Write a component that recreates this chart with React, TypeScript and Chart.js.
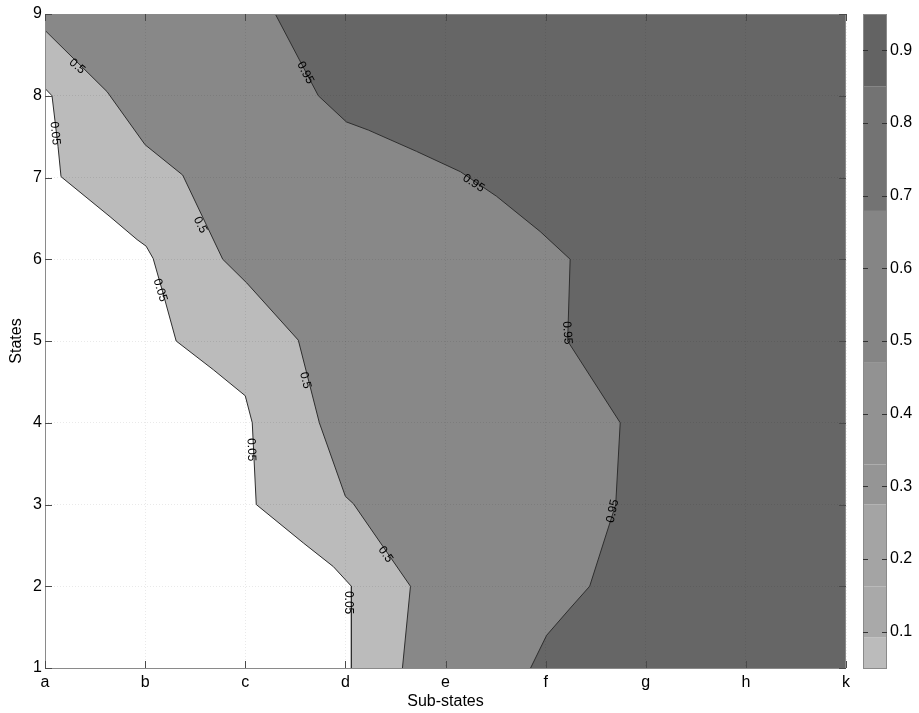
import React, { useEffect, useRef } from "react";
import { Chart, registerables } from "chart.js";

Chart.register(...registerables);

// ---------- data ----------
const subStates = ["a", "b", "c", "d", "e", "f", "g", "h", "k"];
const stateTicks = [1, 2, 3, 4, 5, 6, 7, 8, 9];
const colorbarTicks = [0.1, 0.2, 0.3, 0.4, 0.5, 0.6, 0.7, 0.8, 0.9];

// axis ranges (index of sub-state, state)
const xMin = 0;
const xMax = 8;
const yMin = 1;
const yMax = 9;

// contour 0.05 (white | light)
const c005X = [0, 0.07, 0.13, 0.16, 0.65, 0.92, 1.01, 1.08, 1.18, 1.31, 1.68, 2.0, 2.07, 2.11, 2.58, 2.88, 3.06, 3.06];
const c005Y = [8.09, 8.0, 7.38, 7.01, 6.52, 6.24, 6.16, 6.01, 5.58, 5.0, 4.65, 4.33, 4.0, 3.0, 2.53, 2.24, 2.0, 1.0];

// contour 0.5 (light | medium)
const c05X = [0, 0.62, 1.0, 1.375, 1.775, 2.015, 2.53, 2.74, 3.0, 3.08, 3.65, 3.57];
const c05Y = [8.8, 8.05, 7.4, 7.03, 6.0, 5.71, 5.01, 4.0, 3.1, 3.01, 2.0, 1.0];

// contour 0.95 (medium | dark)
const c095X = [2.3, 2.73, 3.01, 3.23, 3.71, 4.15, 4.51, 4.945, 5.245, 5.22, 5.745, 5.7, 5.44, 5.23, 5.01, 4.85];
const c095Y = [9, 8.0, 7.68, 7.58, 7.32, 7.07, 6.77, 6.34, 6.0, 5.0, 4.0, 3.0, 2.0, 1.71, 1.4, 1.0];

// contour labels
const labelText = ["0.5", "0.05", "0.95", "0.5", "0.05", "0.95", "0.5", "0.95", "0.05", "0.5", "0.05", "0.95"];
const labelX = [0.32, 0.1, 2.6, 1.55, 1.15, 4.28, 2.6, 5.215, 2.06, 3.4, 3.03, 5.67];
const labelY = [8.36, 7.54, 8.28, 6.42, 5.62, 6.93, 4.52, 5.1, 3.67, 2.39, 1.8, 2.92];
const labelAngle = [40, 84, 62, 63, 73, 33, 76, 86, 88, 55, 90, -78];

// colorbar band boundaries
const bandBounds = [0.05, 0.092, 0.162, 0.275, 0.33, 0.471, 0.679, 0.85, 0.95];

// ---------- styles ----------
const bandColors = ["#bbbbbb", "#a9a9a9", "#a4a4a4", "#959595", "#929292", "#858585", "#737373", "#636363"];
const FONT = '"Liberation Sans", Arial, Helvetica, sans-serif';
const W = 919;
const H = 713;
const LINE = "#2e2e2e";
const NONE = "rgba(0,0,0,0)";

const pts = (xs: number[], ys: number[]) => xs.map((x, i) => ({ x, y: ys[i] }));

const decor = {
  id: "decor",
  afterDraw(chart: any) {
    const { ctx, chartArea: a, scales } = chart;
    const xs = scales.x;
    const ys = scales.y;
    const cb = scales.cb;
    ctx.save();

    // box
    ctx.strokeStyle = "#8a8a8a";
    ctx.lineWidth = 1;
    ctx.strokeRect(a.left + 0.5, a.top + 0.5, a.right - a.left - 1, a.bottom - a.top);

    // inward ticks
    ctx.strokeStyle = "#4a4a4a";
    ctx.beginPath();
    xs.ticks.forEach((t: any) => {
      const px = Math.round(xs.getPixelForValue(t.value)) + 0.5;
      ctx.moveTo(px, a.top);
      ctx.lineTo(px, a.top + 7);
      ctx.moveTo(px, a.bottom);
      ctx.lineTo(px, a.bottom - 7);
    });
    ys.ticks.forEach((t: any) => {
      const py = Math.round(ys.getPixelForValue(t.value)) + 0.5;
      ctx.moveTo(a.left, py);
      ctx.lineTo(a.left + 7, py);
      ctx.moveTo(a.right, py);
      ctx.lineTo(a.right - 7, py);
    });
    ctx.stroke();

    // colorbar
    const cbL = a.right + 17;
    const cbW = 24;
    for (let i = 0; i < bandColors.length; i++) {
      const y0 = cb.getPixelForValue(bandBounds[i]);
      const y1 = cb.getPixelForValue(bandBounds[i + 1]);
      ctx.fillStyle = bandColors[i];
      ctx.fillRect(cbL, y1, cbW, y0 - y1);
    }
    const cTop = cb.getPixelForValue(bandBounds[bandBounds.length - 1]);
    const cBot = cb.getPixelForValue(bandBounds[0]);
    ctx.strokeStyle = "#8a8a8a";
    ctx.strokeRect(cbL + 0.5, cTop + 0.5, cbW - 1, cBot - cTop);
    ctx.strokeStyle = "#333333";
    ctx.beginPath();
    cb.ticks.forEach((t: any) => {
      const py = Math.round(cb.getPixelForValue(t.value)) + 0.5;
      ctx.moveTo(cbL, py);
      ctx.lineTo(cbL + 5, py);
      ctx.moveTo(cbL + cbW - 5, py);
      ctx.lineTo(cbL + cbW, py);
    });
    ctx.stroke();

    // contour labels
    ctx.fillStyle = "#000";
    ctx.font = `12px ${FONT}`;
    ctx.textAlign = "center";
    ctx.textBaseline = "middle";
    labelText.forEach((txt, i) => {
      ctx.save();
      ctx.translate(xs.getPixelForValue(labelX[i]), ys.getPixelForValue(labelY[i]));
      ctx.rotate((labelAngle[i] * Math.PI) / 180);
      ctx.fillText(txt, 0, 0);
      ctx.restore();
    });

    ctx.restore();
  },
};

export default function App() {
  const ref = useRef<HTMLCanvasElement>(null);

  useEffect(() => {
    const canvas = ref.current;
    if (!canvas) return;
    const gridColor = "rgba(0,0,0,0.085)";
    const tickFont = { family: FONT, size: 16 };

    const corner = (x: number, y: number) => ({ x, y });
    // filled regions: contour closed through the axis corners
    const r005 = [...pts(c005X, c005Y), corner(xMin, yMin)];
    const r05 = [...pts(c05X, c05Y), corner(xMin, yMin)];
    const r095 = [corner(xMin, yMax), ...pts(c095X, c095Y), corner(xMin, yMin)];
    const rAll = [corner(xMin, yMax), corner(xMax, yMax), corner(xMax, yMin), corner(xMin, yMin)];

    const lineDs = (label: string, data: any[]) => ({
      label,
      data,
      xAxisID: "x",
      yAxisID: "y",
      fill: false,
      borderColor: LINE,
      borderWidth: 1,
      pointRadius: 0,
    });
    const areaDs = (label: string, data: any[], color: string) => ({
      label,
      data,
      xAxisID: "x",
      yAxisID: "y",
      fill: "shape",
      backgroundColor: color,
      borderColor: NONE,
      borderWidth: 0,
      pointRadius: 0,
    });

    const chart = new Chart(canvas, {
      type: "line",
      data: {
        datasets: [
          lineDs("contour 0.05", pts(c005X, c005Y)),
          lineDs("contour 0.5", pts(c05X, c05Y)),
          lineDs("contour 0.95", pts(c095X, c095Y)),
          areaDs("< 0.05", r005, "#ffffff"),
          areaDs("0.05 - 0.5", r05, "#bbbbbb"),
          areaDs("0.5 - 0.95", r095, "#888888"),
          areaDs("> 0.95", rAll, "#666666"),
        ],
      },
      options: {
        responsive: false,
        animation: false,
        devicePixelRatio: 1,
        events: [],
        layout: { padding: { left: 0, top: 14, right: 0, bottom: 0 }, autoPadding: false },
        plugins: { legend: { display: false }, tooltip: { enabled: false } },
        elements: { line: { tension: 0 }, point: { radius: 0 } },
        scales: {
          x: {
            type: "linear",
            position: "bottom",
            min: xMin,
            max: xMax,
            afterBuildTicks: (s: any) => {
              s.ticks = subStates.map((_, i) => ({ value: i }));
            },
            afterFit: (s: any) => {
              s.height = 45;
              s.paddingLeft = 0;
              s.paddingRight = 0;
            },
            ticks: {
              callback: (v: any) => subStates[Math.round(v)],
              font: tickFont,
              color: "#000",
              padding: 5,
              maxRotation: 0,
              autoSkip: false,
            },
            grid: { drawTicks: false, color: gridColor, lineWidth: 1, z: 1 },
            border: { display: false, dash: [1, 2] },
            title: {
              display: true,
              text: "Sub-states",
              font: tickFont,
              color: "#000",
              padding: { top: 0, bottom: 2 },
            },
          },
          y: {
            type: "linear",
            position: "left",
            min: yMin,
            max: yMax,
            afterBuildTicks: (s: any) => {
              s.ticks = stateTicks.map((v) => ({ value: v }));
            },
            afterFit: (s: any) => {
              s.width = 45;
              s.paddingTop = 0;
              s.paddingBottom = 0;
            },
            ticks: { font: tickFont, color: "#000", padding: 3 },
            grid: { drawTicks: false, color: gridColor, lineWidth: 1, z: 1 },
            border: { display: false, dash: [1, 2] },
            title: {
              display: true,
              text: "States",
              font: tickFont,
              color: "#000",
              padding: { top: 7, bottom: 0 },
            },
          },
          cb: {
            type: "linear",
            position: "right",
            min: 0.05,
            max: 0.95,
            afterBuildTicks: (s: any) => {
              s.ticks = colorbarTicks.map((v) => ({ value: v }));
            },
            afterFit: (s: any) => {
              s.width = 73;
              s.paddingTop = 0;
              s.paddingBottom = 0;
            },
            ticks: {
              font: tickFont,
              color: "#000",
              padding: 44,
              callback: (v: any) => Number(v).toFixed(1),
            },
            grid: { display: false, drawTicks: false },
            border: { display: false },
          },
        },
      },
      plugins: [decor],
    } as any);

    return () => chart.destroy();
  }, []);

  return (
    <div style={{ position: "fixed", left: 0, top: 0, width: W, height: H, background: "#fff" }}>
      <canvas ref={ref} width={W} height={H} style={{ width: W, height: H, display: "block" }} />
    </div>
  );
}
